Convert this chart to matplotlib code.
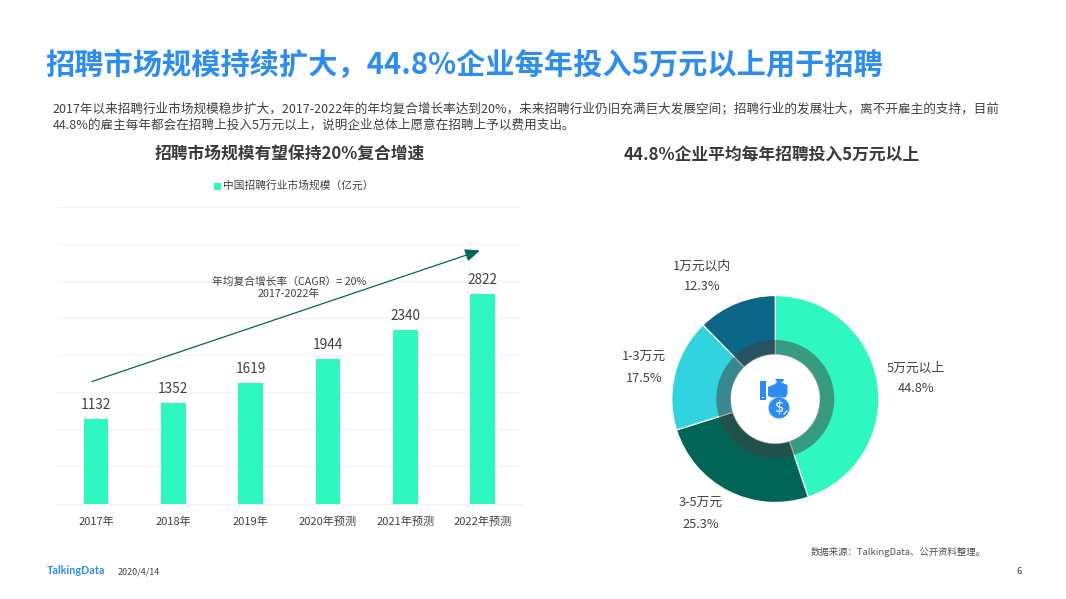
import matplotlib
matplotlib.use("Agg")
import matplotlib.pyplot as plt
from matplotlib.patches import Circle, Rectangle, Polygon

plt.rcParams['font.family'] = ['Noto Sans CJK SC', 'DejaVu Sans']

W, H = 1066, 599
years = ['2017年', '2018年', '2019年', '2020年预测', '2021年预测', '2022年预测']
market = [1132, 1352, 1619, 1944, 2340, 2822]
segments = ['5万元以上', '3-5万元', '1-3万元', '1万元以内']
shares = [44.8, 25.3, 17.5, 12.3]
seg_colors = ['#2EF8C0', '#006557', '#30D3DE', '#0C6685']

BLUE = '#2D8CF0'
GREY = '#404040'

fig = plt.figure(figsize=(W / 100, H / 100), dpi=100, facecolor='white')

def ax_px(x0, y0, x1, y1):
    return fig.add_axes([x0 / W, 1 - y1 / H, (x1 - x0) / W, (y1 - y0) / H])

# overlay in pixel coordinates
ov = fig.add_axes([0, 0, 1, 1], zorder=5)
ov.set_xlim(0, W)
ov.set_ylim(H, 0)
ov.axis('off')
ov.patch.set_alpha(0)

def T(x, y, s, size, color=GREY, ha='left', weight='normal', **kw):
    ov.text(x, y, s, fontsize=size * 0.72, color=color, ha=ha, va='center', fontweight=weight, **kw)

T(45, 65, '招聘市场规模持续扩大，44.8%企业每年投入5万元以上用于招聘', 29.2, BLUE, weight='bold')
T(53, 109, '2017年以来招聘行业市场规模稳步扩大，2017-2022年的年均复合增长率达到20%，未来招聘行业仍旧充满巨大发展空间；招聘行业的发展壮大，离不开雇主的支持，目前', 12.57)
T(53, 125, '44.8%的雇主每年都会在招聘上投入5万元以上，说明企业总体上愿意在招聘上予以费用支出。', 12.57)
T(289.5, 155, '招聘市场规模有望保持20%复合增速', 16.75, '#3A3A3A', ha='center', weight='bold')
T(772, 155, '44.8%企业平均每年招聘投入5万元以上', 16.8, '#3A3A3A', ha='center', weight='bold')

# bar chart
ax = ax_px(57.3, 206.5, 521.3, 503.5)
ax.bar(range(len(market)), market, width=0.316, color=seg_colors[0], zorder=3)
ax.set_xlim(-0.5, 5.5)
ax.set_ylim(0, 4000)
ax.set_yticks(range(0, 4001, 500))
ax.grid(axis='y', color='#F3F3F3', lw=0.9, zorder=0)
ax.tick_params(left=False, bottom=False, labelleft=False, labelcolor=GREY, pad=5.8)
ax.set_xticks(range(len(years)), years, fontsize=8.0, color=GREY)
for s in ax.spines.values():
    s.set_visible(False)
ax.spines['bottom'].set_visible(True)
ax.spines['bottom'].set_color('#EFEFEF')
for i, v in enumerate(market):
    ax.annotate(str(v), (i, v), xytext=(0, 5.2), textcoords='offset points', ha='center', va='bottom',
                fontsize=9.8, color=GREY, zorder=4)

# legend
ov.add_patch(Rectangle((213.5, 183), 7, 6.5, color=seg_colors[0], lw=0))
T(223, 185.5, '中国招聘行业市场规模（亿元）', 10.7)

# CAGR arrow
ov.annotate('', xy=(480, 250.5), xytext=(92, 381.5),
            arrowprops=dict(arrowstyle='-|>,head_length=0.75,head_width=0.32', color='#00665A', lw=0.9,
                            shrinkA=0, shrinkB=0, mutation_scale=12))
T(289, 281.5, '年均复合增长率（CAGR）= 20%', 10.7, ha='center')
T(289, 294, '2017-2022年', 10.7, ha='center')

# donut: coloured sectors, then a translucent dark ring over them
R = 103.5
pie_ax = ax_px(775.3 - R, 399 - R, 775.3 + R, 399 + R)
pie_ax.pie(shares, colors=seg_colors, startangle=90, counterclock=False, radius=1,
           wedgeprops=dict(width=1 - 44.4 / R, edgecolor='white', linewidth=0.9))
pie_ax.pie(shares, colors=[GREY] * len(shares), startangle=90, counterclock=False, radius=59 / R,
           wedgeprops=dict(width=(59 - 44.4) / R, linewidth=0, alpha=0.5))
pie_ax.set_xlim(-1, 1)
pie_ax.set_ylim(-1, 1)

for (x, y1, y2, i) in [(915.5, 368, 389, 0), (700.5, 503, 524, 1), (644, 357, 378, 2), (702, 266, 287, 3)]:
    T(x, y1, segments[i], 12.8, ha='center')
    T(x, y2, f'{shares[i]}%', 12.8, ha='center')

# icon
ov.add_patch(Rectangle((760, 381), 6.3, 19, color=BLUE, lw=0))
ov.add_patch(Rectangle((762.4, 396.5), 1.6, 1.6, color='white', lw=0))
ov.add_patch(Polygon([(768, 387), (775, 384), (778, 381), (787.5, 385), (787.5, 394),
                     (785.5, 397.5), (772, 397.5), (768, 396)], color=BLUE, lw=0))
ov.add_patch(Polygon([(775, 379), (784, 379), (783, 382), (777, 382)], color=BLUE, lw=0))
ov.add_patch(Circle((779, 408), 10.5, color=BLUE, lw=0))
ov.text(779, 407.5, '$', fontsize=10.5, color='white', ha='center', va='center', family='DejaVu Sans', parse_math=False)
ov.plot([784, 787], [414, 411], color='white', lw=0.9)

# footer
T(811, 552, '数据来源：TalkingData、公开资料整理。', 9.4, '#505050', style='italic')
T(47, 571, 'TalkingData', 10.8, BLUE, weight='bold', family=['Lato', 'DejaVu Sans'])
T(118, 571.5, '2020/4/14', 9.0)
T(1019, 571, '6', 9.5, ha='center')

fig.savefig('out.png', dpi=100, facecolor='white')
